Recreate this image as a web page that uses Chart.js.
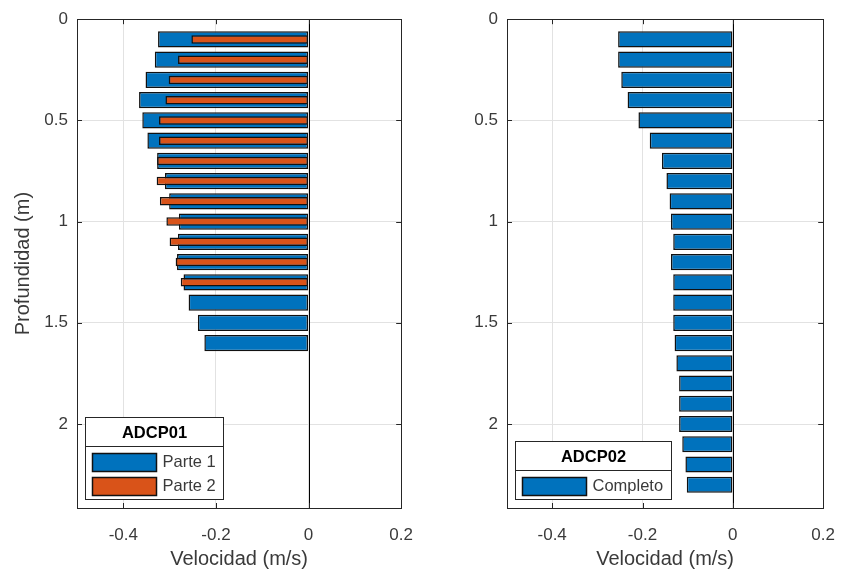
<!DOCTYPE html>
<html>
<head>
<meta charset="utf-8">
<script src="https://cdn.jsdelivr.net/npm/chart.js@4.4.0/dist/chart.umd.min.js"></script>
<style>
  html, body { margin: 0; padding: 0; background: #fff; width: 852px; height: 573px; overflow: hidden; }
  .panel { position: absolute; top: 0; height: 573px; }
  #left { left: 0; width: 430px; }
  #right { left: 430px; width: 422px; }
</style>
</head>
<body>
<div id="left" class="panel"><canvas id="c1"></canvas></div>
<div id="right" class="panel"><canvas id="c2"></canvas></div>
<script>
// Depth bins (m) and mean velocities (m/s)
const depthParte1 = [0.1, 0.2, 0.3, 0.4, 0.5, 0.6, 0.7, 0.8, 0.9, 1.0, 1.1, 1.2, 1.3, 1.4, 1.5, 1.6];
const velParte1   = [-0.325, -0.332, -0.352, -0.366, -0.359, -0.348, -0.327, -0.310, -0.301, -0.280, -0.282, -0.284, -0.270, -0.259, -0.239, -0.225];

const depthParte2 = [0.1, 0.2, 0.3, 0.4, 0.5, 0.6, 0.7, 0.8, 0.9, 1.0, 1.1, 1.2, 1.3];
const velParte2   = [-0.253, -0.282, -0.302, -0.309, -0.323, -0.323, -0.327, -0.328, -0.321, -0.307, -0.300, -0.287, -0.276];

const depthCompleto = [0.1, 0.2, 0.3, 0.4, 0.5, 0.6, 0.7, 0.8, 0.9, 1.0, 1.1, 1.2, 1.3, 1.4, 1.5, 1.6, 1.7, 1.8, 1.9, 2.0, 2.1, 2.2, 2.3];
const velCompleto   = [-0.254, -0.254, -0.247, -0.233, -0.209, -0.184, -0.157, -0.147, -0.140, -0.137, -0.132, -0.137, -0.132, -0.132, -0.132, -0.129, -0.125, -0.119, -0.119, -0.119, -0.112, -0.105, -0.102];

const xTicks = [-0.4, -0.2, 0, 0.2];
const yTicks = [0, 0.5, 1, 1.5, 2];
const xLimits = [-0.5, 0.2];
const yLimits = [0, 2.415];

const BLUE = '#0072BD';
const ORANGE = '#D95319';
const EDGE = '#111111';
const AXIS = '#262626';
const TEXT = '#3a3a3a';
const GRID = '#e2e2e2';
const FONT = '"Liberation Sans", Arial, Helvetica, sans-serif';

function points(depths, values) {
  return depths.map((d, i) => ({ x: values[i], y: d }));
}

// Axes frame, inward tick marks and the black zero baseline
const framePlugin = {
  id: 'frame',
  afterDatasetsDraw(chart) {
    const { ctx, chartArea: a, scales } = chart;
    const xs = scales.x, ys = scales.y;
    ctx.save();
    // zero baseline of the bars
    const x0 = Math.round(xs.getPixelForValue(0)) + 0.5;
    ctx.strokeStyle = '#000';
    ctx.lineWidth = 1;
    ctx.beginPath();
    ctx.moveTo(x0, a.top);
    ctx.lineTo(x0, a.bottom);
    ctx.stroke();
    // box
    ctx.strokeStyle = AXIS;
    ctx.strokeRect(Math.round(a.left) + 0.5, Math.round(a.top) + 0.5,
                   Math.round(a.right - a.left), Math.round(a.bottom - a.top));
    // inward ticks
    const len = 5;
    ctx.beginPath();
    xTicks.forEach(v => {
      const px = Math.round(xs.getPixelForValue(v)) + 0.5;
      ctx.moveTo(px, a.bottom); ctx.lineTo(px, a.bottom - len);
      ctx.moveTo(px, a.top); ctx.lineTo(px, a.top + len);
    });
    yTicks.forEach(v => {
      const py = Math.round(ys.getPixelForValue(v)) + 0.5;
      ctx.moveTo(a.left, py); ctx.lineTo(a.left + len, py);
      ctx.moveTo(a.right, py); ctx.lineTo(a.right - len, py);
    });
    ctx.stroke();
    ctx.restore();
  }
};

// Boxed legend with a bold title, lower-left inside the axes
const boxLegendPlugin = {
  id: 'boxLegend',
  afterDraw(chart, args, opts) {
    const { ctx, chartArea: a } = chart;
    const sets = chart.data.datasets;
    const fs = 16.5;
    const titleH = 29, rowH = 24, swW = 64, swH = 18, padL = 7, gap = 6, padR = 8;
    ctx.save();
    ctx.font = fs + 'px ' + FONT;
    let textW = 0;
    sets.forEach(s => { textW = Math.max(textW, ctx.measureText(s.label).width); });
    const w = Math.round(padL + swW + gap + textW + padR);
    const h = titleH + 3 + rowH * sets.length + 2;
    const left = Math.round(a.left + opts.offsetX) + 0.5;
    const top = Math.round(a.bottom - opts.offsetY - h) + 0.5;
    ctx.fillStyle = '#fff';
    ctx.fillRect(left, top, w, h);
    ctx.strokeStyle = AXIS;
    ctx.lineWidth = 1;
    ctx.strokeRect(left, top, w, h);
    ctx.beginPath();
    ctx.moveTo(left, top + titleH);
    ctx.lineTo(left + w, top + titleH);
    ctx.stroke();
    // title
    ctx.fillStyle = '#000';
    ctx.font = 'bold ' + fs + 'px ' + FONT;
    ctx.textAlign = 'center';
    ctx.textBaseline = 'middle';
    ctx.fillText(opts.title, left + w / 2, top + titleH / 2 + 1);
    // entries
    ctx.font = fs + 'px ' + FONT;
    ctx.textAlign = 'left';
    sets.forEach((s, i) => {
      const rowTop = top + titleH + 3 + i * rowH;
      const sy = Math.round(rowTop + (rowH - swH) / 2) + 0.5;
      ctx.fillStyle = s.backgroundColor;
      ctx.fillRect(left + padL, sy, swW, swH);
      ctx.strokeStyle = EDGE;
      ctx.lineWidth = 1.5;
      ctx.strokeRect(left + padL, sy, swW, swH);
      ctx.fillStyle = TEXT;
      ctx.fillText(s.label, left + padL + swW + gap, rowTop + rowH / 2 + 1);
    });
    ctx.restore();
  }
};

function makeChart(canvasId, datasets, legendTitle, showYTitle, padRight) {
  return new Chart(document.getElementById(canvasId), {
    type: 'bar',
    data: { datasets },
    options: {
      indexAxis: 'y',
      responsive: true,
      maintainAspectRatio: false,
      animation: false,
      devicePixelRatio: 1,
      layout: { padding: { left: 0, right: padRight, top: 14, bottom: 0 } },
      scales: {
        x: {
          type: 'linear',
          min: xLimits[0],
          max: xLimits[1],
          afterBuildTicks: s => { s.ticks = xTicks.map(v => ({ value: v })); },
          afterFit: s => { s.height = 65; },
          grid: { color: GRID, drawTicks: false, lineWidth: 1 },
          border: { display: false },
          ticks: {
            padding: 17,
            color: TEXT,
            font: { family: FONT, size: 17 },
            maxRotation: 0,
            callback: v => String(Math.round(v * 10) / 10)
          },
          title: {
            display: true,
            text: 'Velocidad (m/s)',
            color: TEXT,
            font: { family: FONT, size: 20 },
            padding: { top: 0, bottom: 2 }
          }
        },
        y: {
          type: 'linear',
          reverse: true,
          offset: false,
          min: yLimits[0],
          max: yLimits[1],
          afterBuildTicks: s => { s.ticks = yTicks.map(v => ({ value: v })); },
          afterFit: s => { s.width = 77; },
          grid: { color: GRID, drawTicks: false, lineWidth: 1, offset: false },
          border: { display: false },
          ticks: {
            padding: 9,
            color: TEXT,
            font: { family: FONT, size: 17 },
            callback: v => String(v)
          },
          title: {
            display: showYTitle,
            text: 'Profundidad (m)',
            color: TEXT,
            font: { family: FONT, size: 20 },
            padding: { top: 11, bottom: 0 }
          }
        }
      },
      plugins: {
        legend: { display: false },
        tooltip: { enabled: false },
        boxLegend: { title: legendTitle, offsetX: 8, offsetY: 9 }
      },
      events: []
    },
    plugins: [framePlugin, boxLegendPlugin]
  });
}

makeChart('c1', [
  {
    label: 'Parte 1',
    data: points(depthParte1, velParte1),
    backgroundColor: BLUE,
    borderColor: EDGE,
    borderWidth: 1.5,
    borderSkipped: false,
    inflateAmount: 0,
    grouped: false,
    categoryPercentage: 1,
    barPercentage: 0.8,
    order: 1
  },
  {
    label: 'Parte 2',
    data: points(depthParte2, velParte2),
    backgroundColor: ORANGE,
    borderColor: EDGE,
    borderWidth: 1.5,
    borderSkipped: false,
    inflateAmount: 0,
    grouped: false,
    categoryPercentage: 1,
    barPercentage: 0.42,
    order: 0
  }
], 'ADCP01', true, 27);

makeChart('c2', [
  {
    label: 'Completo',
    data: points(depthCompleto, velCompleto),
    backgroundColor: BLUE,
    borderColor: EDGE,
    borderWidth: 1.5,
    borderSkipped: false,
    inflateAmount: 0,
    grouped: false,
    categoryPercentage: 1,
    barPercentage: 0.8
  }
], 'ADCP02', false, 19);
</script>
</body>
</html>
